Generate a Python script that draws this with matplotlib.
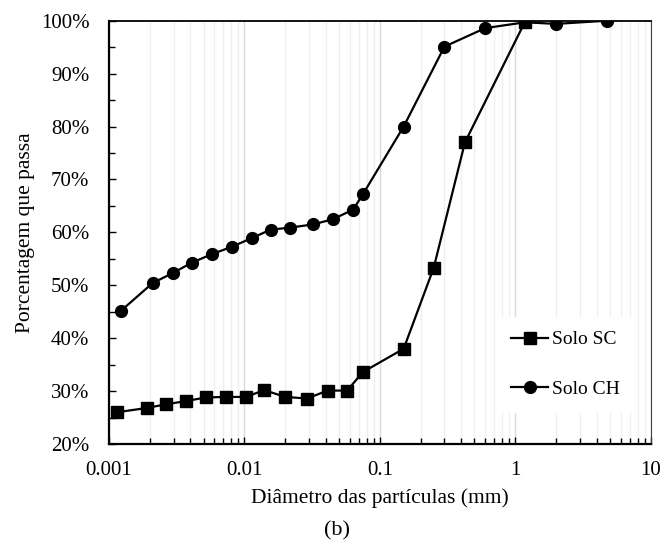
import matplotlib.pyplot as plt
from matplotlib.ticker import FuncFormatter, MultipleLocator, LogLocator

plt.rcParams['font.family'] = ['Liberation Serif', 'DejaVu Serif']

# Solo SC
diam_sc = [0.00114, 0.0019, 0.00263, 0.00368, 0.0052, 0.00726, 0.0103, 0.014,
           0.02, 0.0291, 0.0411, 0.0574, 0.075, 0.15, 0.25, 0.425, 1.18]
passa_sc = [26.0, 26.8, 27.5, 28.1, 28.8, 28.9, 28.9, 30.2,
            28.9, 28.6, 30.1, 30.1, 33.6, 38.0, 53.3, 77.0, 99.8]

# Solo CH
diam_ch = [0.00123, 0.0021, 0.00295, 0.00412, 0.00578, 0.00813, 0.0113, 0.0156,
           0.0217, 0.0322, 0.0452, 0.0636, 0.075, 0.15, 0.3, 0.6, 1.18, 2.0, 4.75]
passa_ch = [45.2, 50.4, 52.3, 54.3, 55.9, 57.3, 58.9, 60.5,
            60.9, 61.5, 62.5, 64.3, 67.2, 80.0, 95.1, 98.6, 99.7, 99.4, 100.0]

fig = plt.figure(figsize=(6.64, 5.45), dpi=100)
ax = fig.add_axes([0.164, 0.1853, 0.816, 0.7767])

ax.plot(diam_sc, passa_sc, color='black', lw=1.6, marker='s', ms=8, label='Solo SC', zorder=3)
ax.plot(diam_ch, passa_ch, color='black', lw=1.6, marker='o', ms=8.5, label='Solo CH', zorder=3)

ax.set_xscale('log')
ax.set_xlim(0.001, 10)
ax.set_ylim(20, 100)

ax.xaxis.set_major_locator(LogLocator(base=10))
ax.xaxis.set_minor_locator(LogLocator(base=10, subs=range(2, 10)))
ax.xaxis.set_major_formatter(FuncFormatter(lambda v, p: '{:g}'.format(v)))
ax.yaxis.set_major_locator(MultipleLocator(10))
ax.yaxis.set_minor_locator(MultipleLocator(5))
ax.yaxis.set_major_formatter(FuncFormatter(lambda v, p: '{:.0f}%'.format(v)))

ax.grid(True, which='major', axis='x', color='#d9d9d9', lw=1.0)
ax.grid(True, which='minor', axis='x', color='#efefef', lw=1.0)
ax.set_axisbelow(True)

ax.tick_params(which='both', direction='in', labelsize=15, top=False, right=False)
ax.tick_params(which='major', length=5, width=1)
ax.tick_params(which='minor', length=4, width=1)
ax.tick_params(axis='x', pad=12)
ax.tick_params(axis='y', pad=14)

for s in ['left', 'bottom']:
    ax.spines[s].set_linewidth(1.6)
ax.spines['top'].set_linewidth(1.3)
ax.spines['right'].set_color('#404040')

ax.set_xlabel('Diâmetro das partículas (mm)', fontsize=15.5, va='top')
ax.xaxis.set_label_coords(0.5, -0.105)
ax.set_ylabel('Porcentagem que passa', fontsize=15.5)
ax.yaxis.set_label_coords(-0.137, 0.5)
fig.text(0.508, 0.026, '(b)', fontsize=16, ha='center', va='center')

leg = ax.legend(loc='center', bbox_to_anchor=(0.843, 0.188), fontsize=14,
                frameon=True, fancybox=False, edgecolor='white', framealpha=1,
                labelspacing=1.65, handlelength=1.9, handletextpad=0.2, borderpad=0.7)

fig.savefig('out.png', dpi=100)
